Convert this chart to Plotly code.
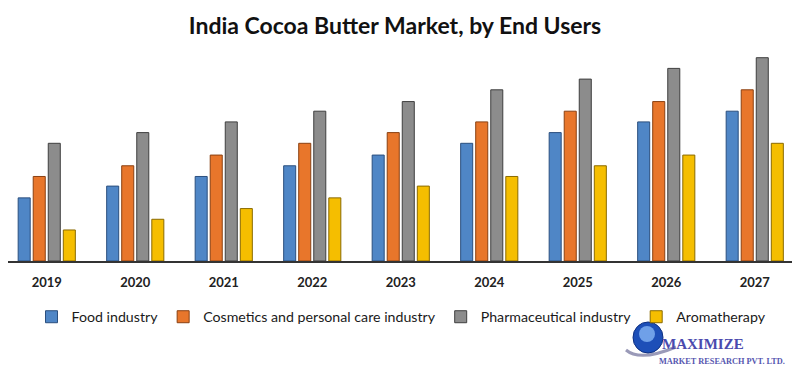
import plotly.graph_objects as go

years = ["2019", "2020", "2021", "2022", "2023", "2024", "2025", "2026", "2027"]
food = [5.9, 7.0, 7.9, 8.9, 9.9, 11.0, 12.0, 13.0, 14.0]
cosmetics = [7.9, 8.9, 9.9, 11.0, 12.0, 13.0, 14.0, 14.9, 16.0]
pharma = [11.0, 12.0, 13.0, 14.0, 14.9, 16.0, 17.0, 18.0, 19.0]
aroma = [2.9, 3.9, 4.9, 5.9, 7.0, 7.9, 8.9, 9.9, 11.0]

series = [
    ("Food industry", food, "#4F86C6", "#2B4F7E"),
    ("Cosmetics and personal care industry", cosmetics, "#E8762B", "#8A4012"),
    ("Pharmaceutical industry", pharma, "#8C8C8C", "#3F3F3F"),
    ("Aromatherapy", aroma, "#F5BE00", "#8A6A00"),
]

fig = go.Figure()
for name, vals, col, edge in series:
    fig.add_trace(go.Bar(
        x=years, y=vals, name=name,
        marker=dict(color=col, line=dict(color=edge, width=1)),
    ))

# page body has an 8px margin, so the figure is drawn at (8, 8)
OFF = 8
W, H = 792, 369
ml, mr, mt, mb = 0, 1, 37, 116
pw, ph = W - ml - mr, H - mt - mb
cat_px = 88.5

def px(sx):
    return (sx - OFF - ml) / pw

def py(sy):
    return (H - mb - (sy - OFF)) / ph

fig.update_layout(
    width=W, height=H,
    margin=dict(l=ml, r=mr, t=mt, b=mb, autoexpand=False),
    paper_bgcolor="white", plot_bgcolor="white",
    barmode="group", bargap=0.32, bargroupgap=0.2,
    title=dict(text="<b>India Cocoa Butter Market, by End Users</b>",
               x=387 / W, xanchor="center", y=1 - 18 / H, yanchor="middle",
               font=dict(family="Lato", size=23, color="#111111")),
    showlegend=True,
    legend=dict(orientation="h", x=394 / W, xanchor="center", yref="container",
                y=60 / H, yanchor="middle", itemwidth=30,
                font=dict(family="Lato", size=14.2, color="#1a1a1a"),
                traceorder="normal", bgcolor="rgba(0,0,0,0)"),
    xaxis=dict(range=[8.5 - pw / cat_px, 8.5], showgrid=False, zeroline=False,
               showline=True, linecolor="#333333", linewidth=1.5, ticks="",
               ticklabelstandoff=9,
               tickfont=dict(family="Lato", size=13, color="#222222", weight="bold")),
    yaxis=dict(range=[0, ph / 10.7], showgrid=False, zeroline=False,
               showline=False, showticklabels=False),
)

# logo (decorative)
fig.add_shape(type="path", xref="paper", yref="paper",
              path=f"M {px(626)},{py(350)} Q {px(640)},{py(362)} {px(676)},{py(347)}",
              line=dict(color="#9A9AB8", width=3))
fig.add_shape(type="circle", xref="paper", yref="paper",
              x0=px(633), x1=px(663), y0=py(353), y1=py(322),
              fillcolor="#1D4FB8", line=dict(color="#0E2F80", width=1))
fig.add_shape(type="circle", xref="paper", yref="paper",
              x0=px(639), x1=px(655), y0=py(342), y1=py(326),
              fillcolor="#6FA0E8", line=dict(width=0))
fig.add_annotation(text="<b>MAXIMIZE</b>", xref="paper", yref="paper",
                   x=px(660), xanchor="left", y=py(354), showarrow=False,
                   font=dict(family="Liberation Serif", size=15, color="#4A4AAE"))
fig.add_annotation(text="<b>MARKET RESEARCH PVT. LTD.</b>", xref="paper", yref="paper",
                   x=px(657), xanchor="left", y=py(368), showarrow=False,
                   font=dict(family="Liberation Serif", size=8.3, color="#5656B0"))

fig.write_html("out.html")
